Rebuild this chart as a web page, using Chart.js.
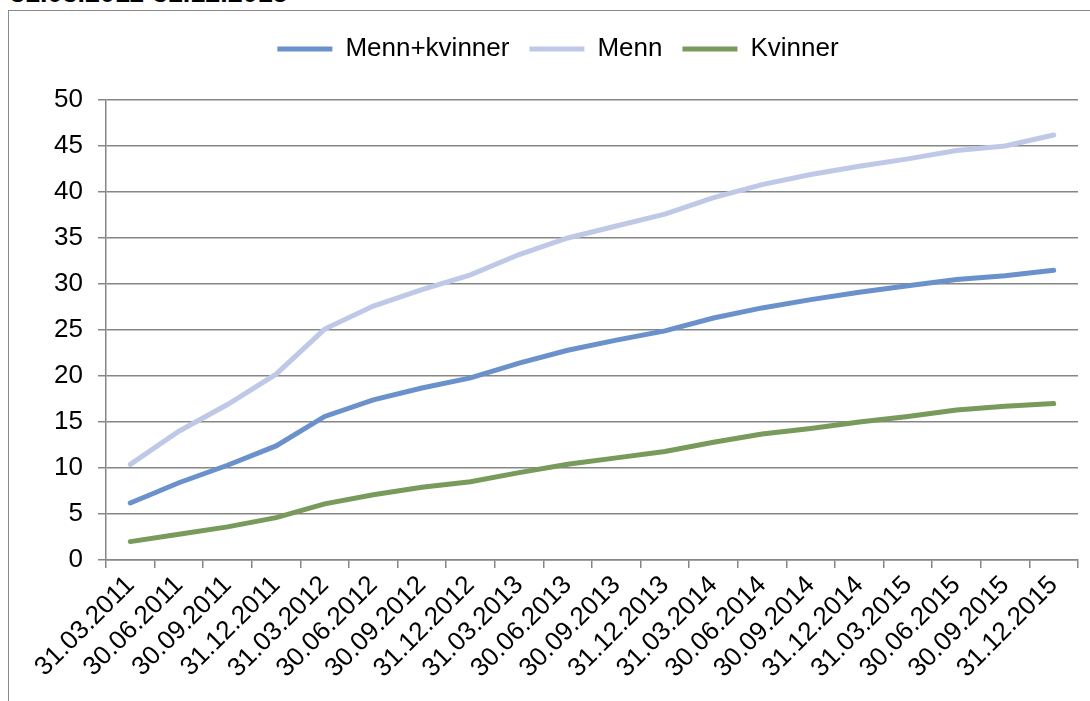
<!DOCTYPE html>
<html>
<head>
<meta charset="utf-8">
<script src="https://cdn.jsdelivr.net/npm/chart.js@4"></script>
<style>
  body { margin: 0; background: #fff; overflow: hidden; }
  #wrap { position: relative; width: 1090px; height: 701px; }
  #period { position: absolute; left: 10px; top: -20px; font: bold 27px "Liberation Sans", Arial, sans-serif; line-height: 1; color: #000; white-space: nowrap; }
  #frame { position: absolute; left: 8px; top: 10px; width: 1120px; height: 740px; border: 1.5px solid #8a8a8a; box-sizing: border-box; }
  #box { position: absolute; left: 0; top: 0; width: 1090px; height: 701px; }
</style>
</head>
<body>
<div id="wrap">
  <div id="period">31.03.2011-31.12.2015</div>
  <div id="frame"></div>
  <div id="box"><canvas id="chart"></canvas></div>
</div>
<script>
// Quarter end dates
const quarters = ["31.03.2011","30.06.2011","30.09.2011","31.12.2011","31.03.2012","30.06.2012","30.09.2012","31.12.2012",
  "31.03.2013","30.06.2013","30.09.2013","31.12.2013","31.03.2014","30.06.2014","30.09.2014","31.12.2014",
  "31.03.2015","30.06.2015","30.09.2015","31.12.2015"];

const mennKvinner = [6.2, 8.4, 10.3, 12.4, 15.6, 17.4, 18.7, 19.8, 21.4, 22.8, 23.9, 24.9, 26.3, 27.4, 28.3, 29.1, 29.8, 30.5, 30.9, 31.5];
const menn        = [10.4, 14.0, 16.9, 20.2, 25.1, 27.6, 29.4, 31.0, 33.2, 35.0, 36.3, 37.6, 39.4, 40.8, 41.9, 42.8, 43.6, 44.5, 45.0, 46.2];
const kvinner     = [2.0, 2.8, 3.6, 4.6, 6.1, 7.1, 7.9, 8.5, 9.5, 10.4, 11.1, 11.8, 12.8, 13.7, 14.3, 15.0, 15.6, 16.3, 16.7, 17.0];

const yTicks = [0, 5, 10, 15, 20, 25, 30, 35, 40, 45, 50];

const gridGray = "#868686";
const font = "'Liberation Sans', Arial, sans-serif";

// extra space under the legend, like the original
const legendGap = {
  id: "legendGap",
  beforeInit(chart) {
    const fit = chart.legend.fit;
    chart.legend.fit = function () {
      fit.call(this);
      this.height += 28;
    };
  }
};

const ctx = document.getElementById("chart").getContext("2d");
new Chart(ctx, {
  type: "line",
  data: {
    labels: quarters,
    datasets: [
      { label: "Menn+kvinner", data: mennKvinner, borderColor: "#6b91cd", backgroundColor: "#6b91cd" },
      { label: "Menn", data: menn, borderColor: "#bfc8e7", backgroundColor: "#bfc8e7" },
      { label: "Kvinner", data: kvinner, borderColor: "#789a5b", backgroundColor: "#789a5b" }
    ].map(d => Object.assign(d, { borderWidth: 5, pointRadius: 0, tension: 0, borderCapStyle: "round", fill: false }))
  },
  plugins: [legendGap],
  options: {
    responsive: true,
    maintainAspectRatio: false,
    animation: false,
    layout: { padding: { left: 38, right: 12, top: 16, bottom: 0 } },
    plugins: {
      tooltip: { enabled: false },
      legend: {
        position: "top",
        labels: {
          color: "#000",
          font: { family: font, size: 26 },
          boxWidth: 55,
          boxHeight: 5,
          padding: 20,
          generateLabels: chart => chart.data.datasets.map((d, i) => ({
            text: d.label, fillStyle: d.borderColor, strokeStyle: d.borderColor,
            lineWidth: 0, datasetIndex: i, fontColor: "#000"
          }))
        }
      }
    },
    scales: {
      x: {
        offset: true,
        grid: { display: true, drawOnChartArea: false, offset: true, color: gridGray, lineWidth: 1.5, tickLength: 8 },
        border: { color: gridGray, width: 1.5 },
        ticks: { color: "#000", font: { family: font, size: 26 }, minRotation: 45, maxRotation: 45, autoSkip: false, padding: 2 },
        afterFit: s => { s.height = 141; }
      },
      y: {
        min: 0, max: 50,
        afterBuildTicks: s => { s.ticks = yTicks.map(v => ({ value: v })); },
        grid: { color: gridGray, lineWidth: 1.5, tickLength: 8 },
        border: { color: gridGray, width: 1.5 },
        ticks: { color: "#000", font: { family: font, size: 26 }, padding: 15 },
        afterFit: s => { s.width = 68; }
      }
    }
  }
});
</script>
</body>
</html>
